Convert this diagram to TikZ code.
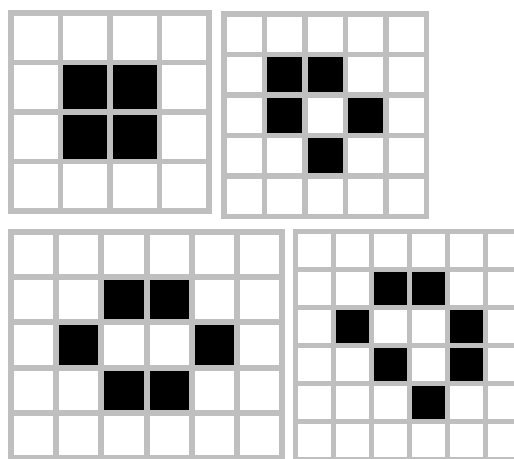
\documentclass[tikz,border=0pt]{standalone}
\definecolor{gridgray}{HTML}{BFBFBF}
\newcommand\lifegrid[7]{%
  \fill[gridgray] (#1,#2) rectangle ({#1+(#5+1)*#3+#4},{#2+(#6+1)*#3+#4});
  \foreach \c in {0,...,#5}{\foreach \r in {0,...,#6}{%
    \fill[white] ({#1+\c*#3+#4},{#2+\r*#3+#4}) rectangle ({#1+(\c+1)*#3},{#2+(\r+1)*#3});}}
  \foreach \c/\r in {#7}{%
    \fill[black] ({#1+\c*#3+#4},{#2+\r*#3+#4}) rectangle ({#1+(\c+1)*#3},{#2+(\r+1)*#3});}
}
\begin{document}
\begin{tikzpicture}[x=1pt,y=-1pt]
\useasboundingbox (0,0) rectangle (514,458);
\clip (0,0) rectangle (514,458);
\fill[white] (0,0) rectangle (514,458);
\lifegrid{8}{10}{49.6}{5.5}{3}{3}{1/1,2/1,1/2,2/2}
\lifegrid{221}{11}{40.5}{5.5}{4}{4}{1/1,2/1,1/2,3/2,2/3}
\lifegrid{8}{229}{45.2}{6}{5}{4}{2/1,3/1,1/2,4/2,2/3,3/3}
\lifegrid{293}{229}{38}{5}{5}{5}{2/1,3/1,1/2,4/2,2/3,4/3,3/4}
\end{tikzpicture}
\end{document}
